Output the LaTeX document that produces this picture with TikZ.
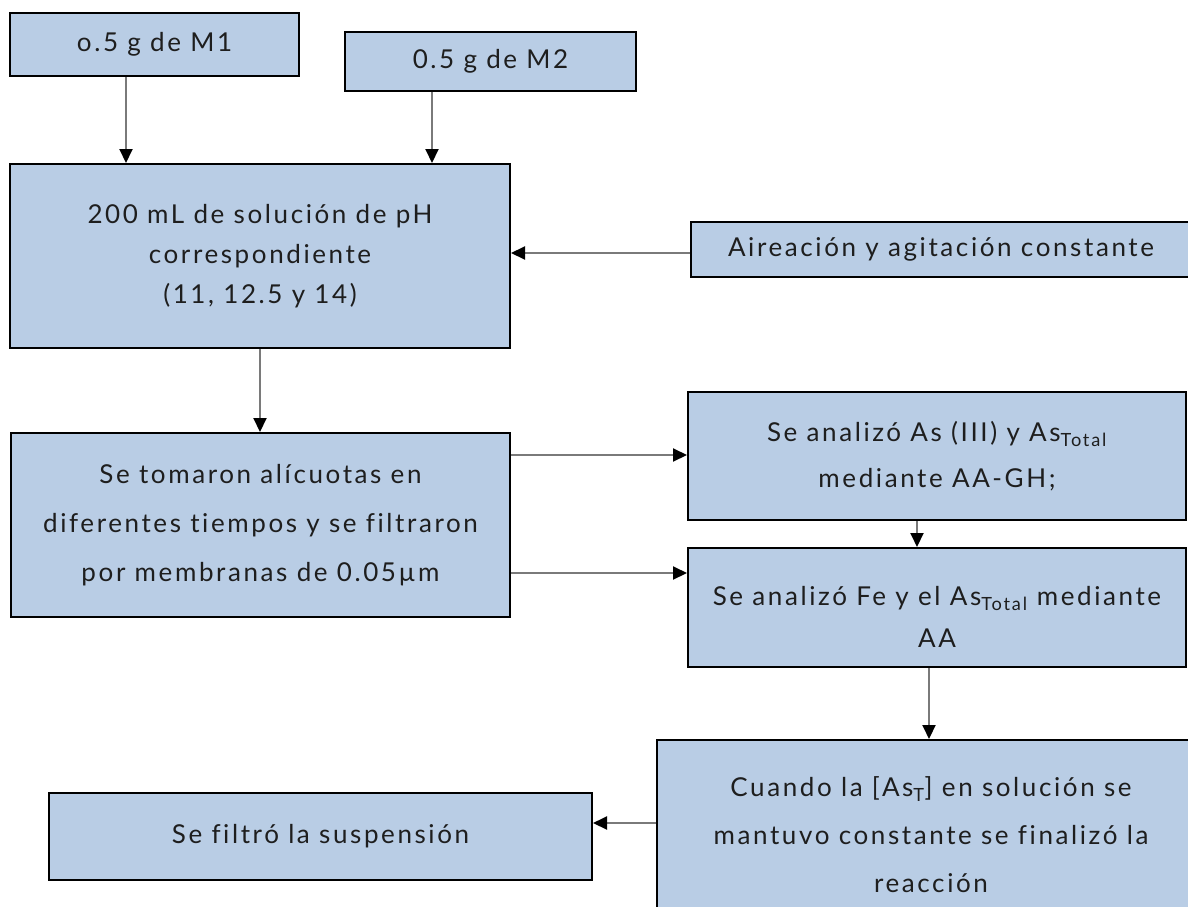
\documentclass[tikz,border=0pt]{standalone}
\usepackage{fontspec}
\setmainfont{Lato}[Ligatures={NoCommon},LetterSpace=10]
\usetikzlibrary{arrows.meta,calc}
\definecolor{boxfill}{HTML}{B9CDE5}
\definecolor{txt}{HTML}{1E1E1E}
\definecolor{lin}{HTML}{7A7A7A}
\begin{document}
\begin{tikzpicture}[x=1pt,y=-1pt,
  box/.style={draw=black,line width=2pt,fill=boxfill,inner sep=0pt,align=center,
    text=txt,font=\fontsize{26}{46}\selectfont},
  arr/.style={draw=lin,line width=2pt,-{Triangle[length=14pt,width=13pt,color=black,fill=black]}}]
\useasboundingbox (0,0) rectangle (1188,907);
\clip (0,0) rectangle (1188,907);
\node[box,minimum width=289pt,minimum height=63pt] (m1) at (154.5,44.5) {o.5 g de M1};
\node[box,minimum width=291pt,minimum height=59pt] (m2) at (490.5,61.5) {0.5 g de M2};
\node[box,minimum width=500pt,minimum height=184pt,font=\fontsize{26}{40}\selectfont] (ph) at (260,256)
  {200 mL de solución de pH\\correspondiente\\(11, 12.5 y 14)};
\node[box,minimum width=500pt,minimum height=55pt] (air) at (941,249.5) {Aireación y agitación constante};
\node[box,minimum width=499pt,minimum height=184pt,font=\fontsize{26}{49}\selectfont] (tom) at (260.5,525)
  {Se tomaron alícuotas en\\diferentes tiempos y se filtraron\\por membranas de 0.05µm};
\node[box,minimum width=498pt,minimum height=128pt] (as3) at (937,456)
  {Se analizó As (III) y As\textsubscript{Total}\\mediante AA-GH;};
\node[box,minimum width=498pt,minimum height=119pt,font=\fontsize{26}{42}\selectfont] (fe) at (937,607.5)
  {\rule{0pt}{38pt}Se analizó Fe y el As\textsubscript{Total} mediante\\AA};
\node[box,minimum width=548pt,minimum height=190pt,font=\fontsize{26}{48}\selectfont] (cua) at (931,835)
  {Cuando la [As\textsubscript{T}] en solución se\\mantuvo constante se finalizó la\\reacción};
\node[box,minimum width=543pt,minimum height=87pt] (fil) at (320.5,836.5) {Se filtró la suspensión};
\draw[arr] (m1.south -| 126,0) -- (ph.north -| 126,0);
\draw[arr] (m2.south -| 432,0) -- (ph.north -| 432,0);
\draw[arr] (air.west |- 0,253) -- (ph.east |- 0,253);
\draw[arr] (ph.south -| 260,0) -- (tom.north -| 260,0);
\draw[arr] (tom.east |- 0,455) -- (as3.west |- 0,455);
\draw[arr] (tom.east |- 0,573) -- (fe.west |- 0,573);
\draw[arr] (as3.south -| 917,0) -- (fe.north -| 917,0);
\draw[arr] (fe.south -| 929,0) -- (cua.north -| 929,0);
\draw[arr] (cua.west |- 0,823) -- (fil.east |- 0,823);
\end{tikzpicture}
\end{document}
